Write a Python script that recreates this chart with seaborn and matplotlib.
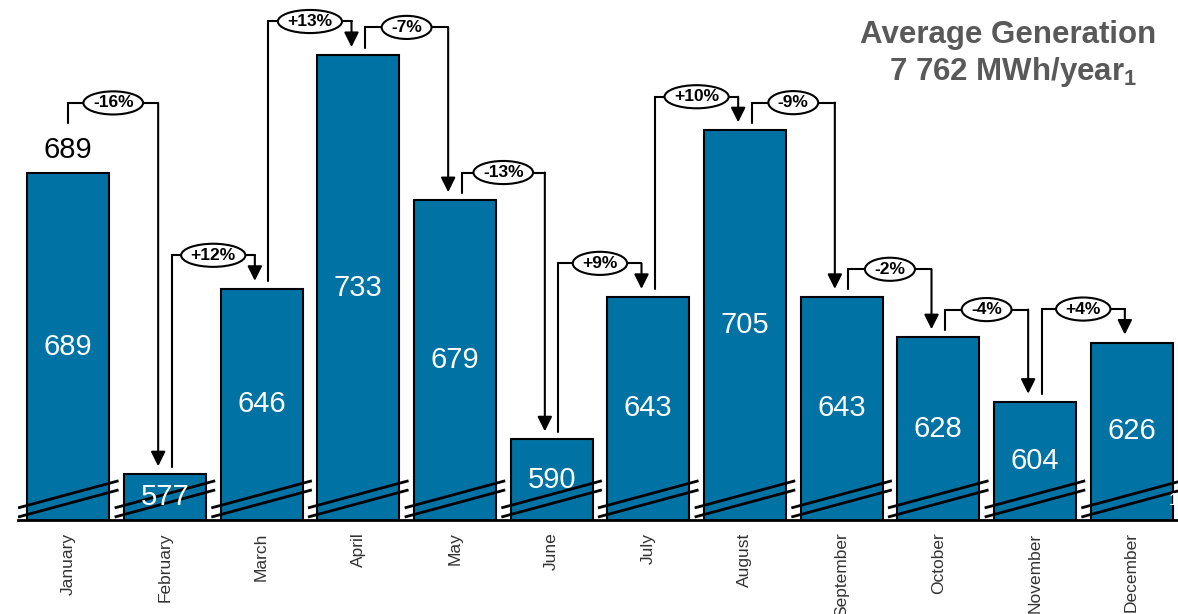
import matplotlib
matplotlib.use("Agg")
import matplotlib.pyplot as plt
import seaborn as sns
import pandas as pd
from matplotlib.patches import Ellipse

months = ["January", "February", "March", "April", "May", "June", "July",
          "August", "September", "October", "November", "December"]
generation = [689, 577, 646, 733, 679, 590, 643, 705, 643, 628, 604, 626]
change_labels = ["-16%", "+12%", "+13%", "-7%", "-13%", "+9%", "+10%",
                 "-9%", "-2%", "-4%", "+4%"]
title_line1 = "Average Generation"
title_line2 = r"7 762 MWh/year$_{\mathregular{1}}$"

BAR_COLOR = "#0072A3"
Y_MIN, Y_MAX = 560, 753.5

sns.set_theme(style="white")
plt.rcParams["font.family"] = ["Liberation Sans", "DejaVu Sans"]
plt.rcParams["mathtext.fontset"] = "custom"
plt.rcParams["mathtext.rm"] = "Liberation Sans"

fig = plt.figure(figsize=(11.78, 6.14), dpi=100)
ax = fig.add_axes([18 / 1178, 94 / 614, 1160 / 1178, 520 / 614])

df = pd.DataFrame({"month": months, "value": generation})
sns.barplot(data=df, x="month", y="value", order=months, color=BAR_COLOR,
            saturation=1, width=0.85, edgecolor="black", linewidth=1.5,
            errorbar=None, ax=ax, zorder=2)

ax.set_xlim(-0.52, 11.48)
ax.set_ylim(Y_MIN, Y_MAX)
ax.set_xlabel("")
ax.set_ylabel("")
ax.set_yticks([])
for s in ["left", "top", "right"]:
    ax.spines[s].set_visible(False)
ax.spines["bottom"].set_linewidth(2)
ax.spines["bottom"].set_color("black")
ax.spines["bottom"].set_zorder(5)
ax.tick_params(axis="x", length=0, pad=9)
ax.set_xticks(range(len(months)))
ax.set_xticklabels(months, rotation=90, fontsize=12.5, color="#333333",
                   va="top", ha="center")

# value labels inside bars
for i, v in enumerate(generation):
    ax.text(i, (Y_MIN + v) / 2, str(v), color="white", fontsize=21,
            ha="center", va="center", zorder=4)
# first value above its bar
ax.text(0, generation[0] + 8.5, str(generation[0]), color="black", fontsize=21,
        ha="center", va="center", zorder=4)

# axis-break marks
for i in range(len(months)):
    for y0 in (561.1, 564.5):
        ax.plot([i - 0.52, i + 0.52], [y0, y0 + 10.1], color="black",
                lw=2, zorder=3, solid_capstyle="butt")

fig.canvas.draw()
renderer = fig.canvas.get_renderer()
px_per_unit_x = ax.get_window_extent().width / (ax.get_xlim()[1] - ax.get_xlim()[0])

# change connectors
for i, lab in enumerate(change_labels):
    a, b = generation[i], generation[i + 1]
    if i == 0:
        sx = i
        sy = a + 18.7
        level = a + 26.2
    else:
        sx = i + 0.07
        sy = a + 2.8
        level = max(a, b) + (12.5 if b > a else 10.3)
    ex = i + 1 - 0.07
    tip = b + 3.0
    ax.plot([sx, sx, ex], [sy, level, level], color="black", lw=1.5,
            zorder=5, solid_joinstyle="miter")
    ax.annotate("", xy=(ex, tip), xytext=(ex, level),
                arrowprops=dict(arrowstyle="-|>", color="black", lw=1.5,
                                mutation_scale=22, shrinkA=0, shrinkB=0),
                zorder=5)
    cx = (sx + ex) / 2
    t = ax.text(cx, level, lab, fontsize=12.5, fontweight="bold", ha="center",
                va="center", zorder=7, color="black")
    tw = t.get_window_extent(renderer).width
    w = (tw + 19) / px_per_unit_x
    ax.add_patch(Ellipse((cx, level), w, 8.6, facecolor="white",
                         edgecolor="black", lw=1.5, zorder=6))

# stray footnote mark at bottom right
ax.text(11.38, 564.5, "1", color="white", fontsize=12, ha="left",
        va="bottom", zorder=4, clip_on=False)

fig.text(1008 / 1178, 1 - 35 / 614, title_line1, fontsize=22.5,
         fontweight="bold", color="#595959", ha="center", va="center")
fig.text(1013 / 1178, 1 - 72 / 614, title_line2, fontsize=22.5,
         fontweight="bold", color="#595959", ha="center", va="center")

fig.savefig("out.png", dpi=100, facecolor="white")
